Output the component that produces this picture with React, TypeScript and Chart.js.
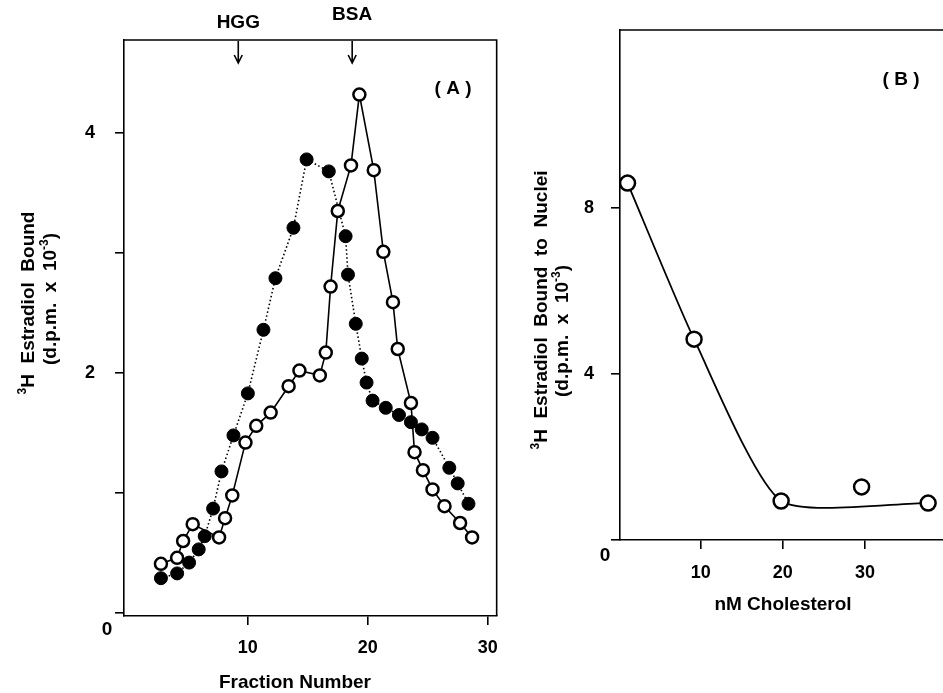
import React, { useEffect, useRef } from 'react';
import { Chart, registerables } from 'chart.js';

Chart.register(...registerables);

const FAMILY = '"Liberation Sans", Arial, Helvetica, sans-serif';

// ---------- Panel A: elution profile ----------
const openFraction = [2.75, 4.1, 4.6, 5.4, 7.6, 8.1, 8.7, 9.8, 10.7, 11.9, 13.4, 14.3, 16.0, 16.5, 16.9, 17.5, 18.6, 19.3, 20.5, 21.3, 22.1, 22.5, 23.6, 23.9, 24.6, 25.4, 26.4, 27.7, 28.7];
const openBound = [0.41, 0.46, 0.6, 0.74, 0.63, 0.79, 0.98, 1.42, 1.56, 1.67, 1.89, 2.02, 1.98, 2.17, 2.72, 3.35, 3.73, 4.32, 3.69, 3.01, 2.59, 2.2, 1.75, 1.34, 1.19, 1.03, 0.89, 0.75, 0.63];
const filledFraction = [2.75, 4.1, 5.1, 5.9, 6.4, 7.1, 7.8, 8.8, 10.0, 11.3, 12.3, 13.8, 14.9, 16.75, 18.15, 18.35, 19.0, 19.5, 19.9, 20.4, 21.5, 22.6, 23.6, 24.5, 25.4, 26.8, 27.5, 28.4];
const filledBound = [0.29, 0.33, 0.42, 0.53, 0.64, 0.87, 1.18, 1.48, 1.83, 2.36, 2.79, 3.21, 3.78, 3.68, 3.14, 2.82, 2.41, 2.12, 1.92, 1.77, 1.71, 1.65, 1.59, 1.53, 1.46, 1.21, 1.08, 0.91];
const xTicksA = [10, 20, 30];
const xTickLabelsA = ['10', '20', '30'];
const yTicksA = [0, 1, 2, 3, 4];
const yTickLabelsA = ['', '', '2', '', '4'];
const markerFractions = [9.2, 18.7];
const markerNames = ['HGG', 'BSA'];

// ---------- Panel B: cholesterol competition ----------
const cholesterolNM = [1.1, 9.2, 19.8, 29.6, 37.7];
const nucleiBound = [8.6, 4.84, 0.94, 1.28, 0.89];
const fitCholesterolNM = [1.1, 9.2, 19.8, 37.7];
const fitNucleiBound = [8.6, 4.84, 0.94, 0.89];
const xTicksB = [10, 20, 30];
const xTickLabelsB = ['10', '20', '30'];
const yTicksB = [0, 4, 8];
const yTickLabelsB = ['', '4', '8'];

type Run = { t: string; sup?: boolean };

function drawRich(ctx: CanvasRenderingContext2D, runs: Run[], cx: number, cy: number, size: number, rot: number) {
  ctx.save();
  ctx.translate(cx, cy);
  ctx.rotate(rot);
  const fonts = runs.map((r) => `bold ${r.sup ? Math.round(size * 0.62) : size}px ${FAMILY}`);
  let total = 0;
  const widths = runs.map((r, i) => {
    ctx.font = fonts[i];
    const w = ctx.measureText(r.t).width;
    total += w;
    return w;
  });
  let x = -total / 2;
  ctx.textAlign = 'left';
  ctx.textBaseline = 'alphabetic';
  ctx.fillStyle = '#000';
  runs.forEach((r, i) => {
    ctx.font = fonts[i];
    ctx.fillText(r.t, x, r.sup ? -size * 0.05 : size * 0.35);
    x += widths[i];
  });
  ctx.restore();
}

function pts(xs: number[], ys: number[]) {
  return xs.map((x, i) => ({ x, y: ys[i] }));
}

const tickFont = { family: FAMILY, size: 18, weight: 'bold' as const };

function axis(min: number, max: number, values: number[], labels: string[], pad: number, fit: (s: any) => void) {
  return {
    type: 'linear' as const,
    min,
    max,
    afterBuildTicks: (s: any) => {
      s.ticks = values.map((v) => ({ value: v }));
    },
    afterFit: fit,
    ticks: {
      callback: (_v: any, i: number) => labels[i],
      font: tickFont,
      color: '#000',
      padding: pad,
      maxRotation: 0,
      autoSkip: false,
    },
    grid: { drawOnChartArea: false, drawTicks: true, tickLength: 9, color: '#000', lineWidth: 1.6 },
    border: { display: true, color: '#000', width: 1.6 },
  };
}

function frame(ctx: CanvasRenderingContext2D, a: any) {
  ctx.save();
  ctx.strokeStyle = '#000';
  ctx.lineWidth = 1.6;
  ctx.beginPath();
  ctx.moveTo(a.left, a.top);
  ctx.lineTo(a.right, a.top);
  ctx.lineTo(a.right, a.bottom);
  ctx.stroke();
  ctx.restore();
}

const plotAPlugin = {
  id: 'plotA',
  afterDraw(chart: any) {
    const { ctx, chartArea: a, scales } = chart;
    frame(ctx, a);
    ctx.save();
    ctx.fillStyle = '#000';
    ctx.strokeStyle = '#000';
    ctx.lineWidth = 1.6;
    ctx.font = `bold 19px ${FAMILY}`;
    ctx.textAlign = 'center';
    ctx.textBaseline = 'middle';
    markerFractions.forEach((v, i) => {
      const x = scales.x.getPixelForValue(v);
      const y0 = a.top + 1;
      const y1 = a.top + 23;
      ctx.beginPath();
      ctx.moveTo(x, y0);
      ctx.lineTo(x, y1);
      ctx.moveTo(x - 4, y1 - 8);
      ctx.lineTo(x, y1);
      ctx.lineTo(x + 4, y1 - 8);
      ctx.stroke();
      ctx.fillText(markerNames[i], x, i === 0 ? a.top - 17 : a.top - 25);
    });
    ctx.fillText('( A )', a.left + 329, a.top + 49);
    ctx.fillText('0', 107, 630);
    ctx.fillText('Fraction Number', 295, 683);
    ctx.restore();
    drawRich(ctx, [{ t: '3', sup: true }, { t: 'H  Estradiol  Bound' }], 27, 303, 19, -Math.PI / 2);
    drawRich(ctx, [{ t: '(d.p.m.  x  10' }, { t: '-3', sup: true }, { t: ')' }], 49, 299, 19, -Math.PI / 2);
  },
};

const plotBPlugin = {
  id: 'plotB',
  afterDraw(chart: any) {
    const { ctx, chartArea: a } = chart;
    frame(ctx, a);
    ctx.save();
    ctx.fillStyle = '#000';
    ctx.font = `bold 19px ${FAMILY}`;
    ctx.textAlign = 'center';
    ctx.textBaseline = 'middle';
    ctx.fillText('( B )', 396, 80);
    ctx.fillText('0', 100, 556);
    ctx.fillText('nM Cholesterol', 278, 605);
    ctx.restore();
    drawRich(ctx, [{ t: '3', sup: true }, { t: 'H  Estradiol  Bound  to  Nuclei' }], 35, 310, 19, -Math.PI / 2);
    drawRich(ctx, [{ t: '(d.p.m.  x  10' }, { t: '-3', sup: true }, { t: ')' }], 56, 331, 19, -Math.PI / 2);
  },
};

export default function App() {
  const refA = useRef<HTMLCanvasElement>(null);
  const refB = useRef<HTMLCanvasElement>(null);

  useEffect(() => {
    document.body.style.margin = '0';
    const common = {
      responsive: false,
      animation: false as const,
      events: [] as any[],
      plugins: { legend: { display: false }, tooltip: { enabled: false } },
    };
    const chartA = new Chart(refA.current!, {
      type: 'scatter',
      data: {
        datasets: [
          {
            data: pts(openFraction, openBound),
            showLine: true,
            borderColor: '#000',
            borderWidth: 1.6,
            pointRadius: 6,
            pointBackgroundColor: '#fff',
            pointBorderColor: '#000',
            pointBorderWidth: 2.5,
          },
          {
            data: pts(filledFraction, filledBound),
            showLine: true,
            borderColor: '#000',
            borderWidth: 1.6,
            borderDash: [1.5, 2.5],
            pointRadius: 6.5,
            pointBackgroundColor: '#000',
            pointBorderColor: '#000',
            pointBorderWidth: 1,
          },
        ],
      },
      options: {
        ...common,
        layout: { padding: { left: 0, right: 13, top: 40, bottom: 0 } },
        scales: {
          x: axis(-0.33, 30.75, xTicksA, xTickLabelsA, 12, (s: any) => { s.height = 77; }),
          y: axis(-0.025, 4.775, yTicksA, yTickLabelsA, 20, (s: any) => { s.width = 124; }),
        },
      },
      plugins: [plotAPlugin],
    } as any);

    const chartB = new Chart(refB.current!, {
      type: 'scatter',
      data: {
        datasets: [
          {
            data: pts(cholesterolNM, nucleiBound),
            showLine: false,
            pointRadius: 7.5,
            pointBackgroundColor: '#fff',
            pointBorderColor: '#000',
            pointBorderWidth: 2.5,
          },
          {
            data: pts(fitCholesterolNM, fitNucleiBound),
            showLine: true,
            borderColor: '#000',
            borderWidth: 1.8,
            tension: 0.2,
            pointRadius: 0,
          },
        ],
      },
      options: {
        ...common,
        layout: { padding: { left: 0, right: 0, top: 30, bottom: 0 } },
        scales: {
          x: axis(0.18, 42.19, xTicksB, xTickLabelsB, 13, (s: any) => { s.height = 153; }),
          y: axis(0, 12.29, yTicksB, yTickLabelsB, 17, (s: any) => { s.width = 115; }),
        },
      },
      plugins: [plotBPlugin],
    } as any);

    return () => {
      chartA.destroy();
      chartB.destroy();
    };
  }, []);

  return (
    <div style={{ position: 'fixed', left: 0, top: 0, width: 943, height: 693, overflow: 'hidden', background: '#fff' }}>
      <canvas ref={refA} width={510} height={693} style={{ position: 'absolute', left: 0, top: 0, width: 510, height: 693 }} />
      <canvas ref={refB} width={470} height={693} style={{ position: 'absolute', left: 505, top: 0, width: 470, height: 693 }} />
    </div>
  );
}
